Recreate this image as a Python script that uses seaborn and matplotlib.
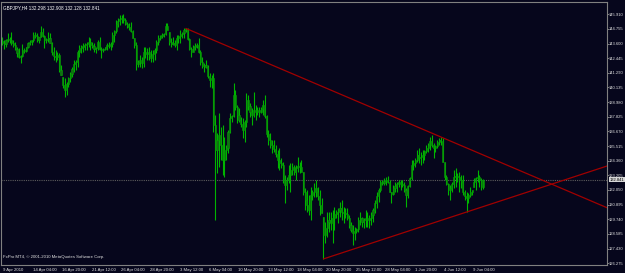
import numpy as np
import pandas as pd
import matplotlib
matplotlib.use('Agg')
import matplotlib.pyplot as plt
import matplotlib.transforms as mtransforms
import seaborn as sns

# GBPJPY H4 candles (9 Apr 2010 12:00 -> 10 Jun 2010 04:00)
symbol = 'GBPJPY,H4'
last_ohlc = [132.298, 132.908, 132.128, 132.841]
bid_price = 132.841

highs = [
    144.12, 143.88, 143.96, 144.44, 144.12, 144.52, 143.88, 143.73, 143.33, 143.25,
    142.70, 143.57, 143.25, 143.33, 143.73, 143.88, 143.88, 144.52, 144.52, 144.44,
    144.12, 144.99, 144.83, 144.28, 144.04, 144.52, 144.44, 143.73, 143.33, 143.10,
    142.94, 142.86, 141.91, 140.96, 140.89, 140.57, 140.96, 141.36, 141.75, 142.31,
    142.31, 143.10, 143.49, 143.49, 143.65, 143.65, 143.73, 144.12, 144.04, 143.73,
    143.65, 143.33, 143.88, 144.12, 143.33, 143.25, 143.33, 143.65, 143.73, 143.73,
    144.52, 144.67, 145.46, 145.62, 145.86, 145.86, 145.94, 145.62, 145.30, 145.22,
    145.30, 144.67, 144.04, 143.73, 142.31, 142.70, 142.54, 143.33, 143.33, 143.25,
    143.33, 143.10, 143.10, 143.25, 143.88, 144.28, 144.28, 144.44, 144.44, 145.22,
    145.22, 144.52, 144.04, 144.12, 143.88, 144.28, 144.28, 144.67, 144.52, 144.83,
    144.83, 144.83, 144.04, 143.33, 143.49, 143.65, 143.65, 144.04, 143.10, 142.54,
    142.07, 142.31, 141.91, 141.28, 141.12, 141.28, 137.97, 136.55, 138.12, 137.02,
    137.18, 136.23, 135.60, 136.78, 138.12, 137.97, 140.49, 139.94, 138.76, 138.52,
    137.81, 137.73, 137.57, 139.70, 139.54, 138.91, 138.52, 139.78, 138.76, 138.60,
    138.60, 138.60, 139.15, 139.54, 137.97, 136.78, 136.55, 135.99, 135.99, 135.60,
    135.21, 135.36, 134.58, 134.26, 133.23, 133.07, 134.02, 134.18, 134.18, 134.02,
    134.02, 134.65, 134.26, 134.42, 133.47, 132.21, 132.05, 131.65, 132.29, 132.05,
    132.60, 132.84, 132.29, 132.05, 131.42, 129.92, 129.52, 130.31, 130.31, 130.31,
    130.47, 130.71, 130.47, 130.63, 131.10, 131.26, 130.71, 130.63, 130.63, 130.08,
    129.52, 129.29, 129.13, 129.05, 129.92, 130.31, 129.92, 129.84, 130.47, 130.31,
    130.08, 130.31, 130.63, 131.26, 131.89, 132.21, 132.84, 132.84, 133.00, 133.07,
    133.15, 132.84, 131.89, 132.44, 132.68, 132.68, 132.84, 132.84, 132.84, 132.68,
    132.21, 132.44, 133.07, 134.42, 134.42, 134.58, 135.21, 135.36, 135.05, 135.21,
    135.21, 135.60, 135.76, 136.23, 136.39, 135.76, 135.60, 135.99, 136.15, 136.23,
    136.15, 134.26, 133.23, 132.60, 132.44, 132.68, 133.63, 133.79, 133.39, 133.47,
    133.23, 133.23, 132.05, 131.89, 131.81, 132.29, 132.05, 133.00, 133.07, 133.63,
    133.23, 133.00, 132.908,
]
lows = [
    143.49, 143.17, 143.33, 143.73, 143.65, 143.49, 143.33, 143.10, 142.54, 142.46,
    142.07, 142.54, 142.86, 142.94, 143.25, 143.49, 143.49, 143.73, 144.04, 143.73,
    143.65, 144.12, 144.12, 143.25, 143.65, 143.73, 143.65, 142.70, 142.31, 142.15,
    142.31, 141.36, 141.12, 140.10, 139.39, 139.54, 140.18, 140.57, 140.96, 141.36,
    141.52, 141.75, 142.54, 142.86, 142.94, 143.10, 143.10, 143.33, 143.10, 143.25,
    142.94, 142.86, 143.10, 143.10, 142.46, 142.94, 143.10, 143.10, 143.25, 143.10,
    143.33, 143.73, 144.44, 144.91, 145.07, 145.22, 145.22, 145.07, 144.83, 144.67,
    144.52, 144.04, 143.25, 141.52, 141.75, 141.75, 141.67, 141.75, 142.46, 142.31,
    142.31, 142.15, 142.15, 142.31, 142.86, 143.49, 143.88, 144.04, 144.12, 144.28,
    144.67, 143.49, 143.33, 143.49, 143.33, 143.10, 143.65, 143.65, 144.04, 144.04,
    144.52, 143.88, 143.10, 142.54, 142.94, 143.10, 143.25, 142.86, 141.91, 141.67,
    141.36, 141.67, 140.89, 140.18, 140.10, 136.63, 129.68, 133.39, 133.86, 134.42,
    133.23, 133.07, 134.42, 134.97, 136.55, 137.41, 137.81, 138.36, 137.34, 137.41,
    137.02, 136.15, 135.84, 137.02, 138.36, 137.81, 137.18, 137.81, 137.57, 137.97,
    137.81, 138.12, 137.97, 137.73, 136.23, 135.60, 135.36, 134.97, 135.05, 134.65,
    133.79, 133.63, 133.79, 132.60, 131.02, 132.05, 132.60, 131.89, 133.23, 133.23,
    132.84, 133.47, 133.39, 133.47, 131.65, 130.47, 130.31, 130.08, 129.68, 131.26,
    131.50, 131.50, 131.26, 130.08, 130.23, 126.61, 127.87, 128.34, 128.74, 128.89,
    127.87, 128.89, 129.84, 129.45, 129.92, 129.68, 129.45, 129.84, 129.68, 129.05,
    128.74, 127.71, 128.10, 128.66, 128.74, 129.29, 129.13, 129.05, 129.13, 129.13,
    129.05, 129.29, 129.52, 130.23, 130.63, 131.10, 131.89, 132.44, 132.44, 132.44,
    132.60, 131.89, 131.02, 131.65, 131.89, 131.89, 132.29, 132.05, 132.29, 131.89,
    130.71, 131.42, 132.29, 132.84, 133.63, 133.86, 134.26, 134.18, 134.02, 134.18,
    134.42, 134.97, 135.05, 135.21, 135.44, 134.58, 135.05, 135.36, 135.60, 135.60,
    134.26, 132.84, 132.44, 131.65, 131.26, 131.89, 132.21, 132.29, 132.68, 131.89,
    132.21, 131.65, 131.26, 130.31, 131.02, 131.50, 131.65, 132.29, 132.05, 132.68,
    132.29, 132.05, 132.128,
]
opens = [
    143.81, 143.65, 143.57, 143.88, 143.96, 143.88, 143.65, 143.49, 143.17, 142.86,
    142.54, 142.62, 143.10, 143.02, 143.33, 143.65, 143.73, 143.88, 144.28, 144.20,
    143.88, 144.12, 144.52, 144.20, 143.88, 143.96, 144.04, 143.65, 142.94, 142.62,
    142.54, 142.70, 141.52, 140.96, 140.33, 139.94, 140.41, 140.89, 141.20, 141.60,
    141.99, 142.15, 142.94, 143.25, 143.33, 143.41, 143.49, 143.57, 143.73, 143.49,
    143.41, 143.17, 143.25, 143.73, 143.17, 143.10, 143.17, 143.33, 143.49, 143.41,
    143.57, 144.28, 144.59, 145.15, 145.38, 145.54, 145.62, 145.46, 145.15, 144.99,
    144.91, 144.59, 144.04, 143.49, 141.99, 142.15, 142.31, 142.07, 142.94, 142.78,
    142.94, 142.62, 142.46, 142.78, 143.10, 143.73, 144.04, 144.20, 144.28, 144.36,
    144.99, 144.52, 143.73, 143.57, 143.65, 143.49, 144.04, 144.20, 144.36, 144.44,
    144.67, 144.75, 143.96, 143.17, 142.94, 143.33, 143.41, 143.49, 142.94, 142.15,
    141.83, 141.91, 141.75, 141.04, 140.73, 140.89, 137.18, 135.21, 135.99, 136.39,
    135.60, 134.42, 135.21, 135.36, 136.63, 137.73, 137.89, 139.54, 138.60, 137.97,
    137.57, 137.26, 136.78, 137.41, 139.15, 138.68, 138.20, 137.97, 138.36, 138.20,
    138.36, 138.20, 138.44, 138.76, 137.89, 136.47, 135.99, 135.60, 135.52, 135.28,
    134.89, 134.42, 134.18, 134.02, 132.84, 132.44, 132.84, 133.23, 133.63, 133.86,
    133.47, 133.79, 133.94, 133.86, 133.47, 131.89, 131.26, 130.87, 130.47, 131.65,
    131.89, 132.21, 131.89, 131.57, 130.87, 129.92, 128.50, 129.05, 129.52, 129.68,
    129.45, 129.84, 130.15, 130.31, 130.47, 130.63, 130.31, 130.23, 130.15, 129.84,
    129.29, 128.89, 128.66, 128.81, 128.97, 129.68, 129.84, 129.52, 129.68, 129.84,
    129.68, 129.84, 130.08, 130.47, 131.02, 131.57, 132.05, 132.68, 132.60, 132.76,
    132.84, 132.68, 131.89, 131.73, 132.21, 132.37, 132.52, 132.68, 132.52, 132.44,
    132.05, 131.65, 132.37, 133.00, 134.02, 134.18, 134.42, 134.81, 134.58, 134.65,
    134.81, 135.13, 135.36, 135.60, 135.92, 135.60, 135.36, 135.52, 135.84, 135.99,
    135.92, 134.26, 133.07, 132.52, 132.05, 132.21, 132.52, 133.07, 133.15, 133.07,
    132.84, 132.68, 131.89, 131.57, 131.42, 131.65, 131.89, 132.29, 132.68, 133.00,
    133.07, 132.84, 132.298,
]
closes = [
    143.65, 143.57, 143.88, 143.96, 143.88, 143.65, 143.49, 143.17, 142.86, 142.54,
    142.62, 143.10, 143.02, 143.33, 143.65, 143.73, 143.88, 144.28, 144.20, 143.88,
    144.12, 144.52, 144.20, 143.88, 143.96, 144.04, 143.65, 142.94, 142.62, 142.54,
    142.70, 141.52, 141.12, 140.33, 139.94, 140.41, 140.89, 141.20, 141.60, 141.99,
    142.15, 142.94, 143.25, 143.33, 143.41, 143.49, 143.57, 143.73, 143.49, 143.41,
    143.17, 143.25, 143.73, 143.17, 143.10, 143.17, 143.33, 143.49, 143.41, 143.57,
    144.28, 144.59, 145.15, 145.38, 145.54, 145.62, 145.46, 145.15, 144.99, 144.91,
    144.59, 144.04, 143.49, 141.99, 142.15, 142.31, 142.07, 142.94, 142.78, 142.94,
    142.62, 142.46, 142.78, 143.10, 143.73, 144.04, 144.20, 144.28, 144.36, 144.99,
    144.67, 143.73, 143.57, 143.65, 143.49, 144.04, 144.20, 144.36, 144.44, 144.67,
    144.75, 143.96, 143.17, 142.94, 143.33, 143.41, 143.49, 142.94, 142.15, 141.83,
    141.91, 141.75, 141.04, 140.73, 140.89, 137.18, 135.21, 135.99, 136.39, 135.60,
    134.42, 135.21, 135.36, 136.63, 137.73, 137.89, 139.54, 138.60, 137.97, 137.57,
    137.26, 136.78, 137.41, 139.15, 138.68, 138.20, 137.97, 138.36, 138.20, 138.36,
    138.20, 138.44, 138.76, 137.89, 136.47, 135.99, 135.60, 135.52, 135.28, 134.89,
    134.42, 134.18, 134.02, 132.84, 132.44, 132.84, 133.23, 133.63, 133.86, 133.47,
    133.79, 133.94, 133.86, 133.47, 131.89, 131.26, 130.87, 130.47, 131.65, 131.89,
    132.21, 131.89, 131.57, 130.87, 130.23, 128.50, 129.05, 129.52, 129.68, 129.45,
    129.84, 130.15, 130.31, 130.47, 130.63, 130.31, 130.23, 130.15, 129.84, 129.29,
    128.89, 128.66, 128.81, 128.97, 129.68, 129.84, 129.52, 129.68, 129.84, 129.68,
    129.84, 130.08, 130.47, 131.02, 131.57, 132.05, 132.68, 132.60, 132.76, 132.84,
    132.68, 131.89, 131.73, 132.21, 132.37, 132.52, 132.68, 132.52, 132.44, 132.05,
    131.65, 132.37, 133.00, 134.02, 134.18, 134.42, 134.81, 134.58, 134.65, 134.81,
    135.13, 135.36, 135.60, 135.92, 135.60, 135.36, 135.52, 135.84, 135.99, 135.92,
    134.26, 133.07, 132.52, 132.05, 132.21, 132.52, 133.07, 133.15, 133.07, 132.84,
    132.68, 131.89, 131.57, 131.42, 131.65, 131.89, 132.05, 132.68, 133.00, 133.07,
    132.84, 132.30, 132.841,
]

# time scale labels, one every 16 bars
time_labels = ['9 Apr 2010', '14 Apr 04:00', '16 Apr 20:00', '21 Apr 12:00', '26 Apr 04:00',
               '28 Apr 20:00', '3 May 12:00', '6 May 04:00', '10 May 20:00', '13 May 12:00',
               '18 May 04:00', '20 May 20:00', '25 May 12:00', '28 May 04:00', '1 Jun 20:00',
               '4 Jun 12:00', '9 Jun 04:00']
price_ticks = [145.910, 144.755, 143.600, 142.445, 141.290, 140.135, 138.980, 137.825, 136.670,
               135.515, 134.360, 133.205, 132.050, 130.895, 129.740, 128.585, 127.430, 126.275]

# hand drawn trend lines (bar index, price), both are rays to the right
trend_down = [(100, 144.80), (239, 136.23)]
trend_up = [(175, 126.61), (253, 130.31)]

df = pd.DataFrame({'open': opens, 'high': highs, 'low': lows, 'close': closes})
df['bar'] = np.arange(len(df))

bg = '#06061c'
fs = 3.1      # time scale / copyright
fs_price = 3.0
sns.set_style('dark', {'axes.facecolor': bg, 'figure.facecolor': bg,
                       'axes.edgecolor': '#808080', 'text.color': '#e0e0e0',
                       'xtick.color': '#909090', 'ytick.color': '#909090'})
plt.rcParams['font.family'] = ['Liberation Sans', 'DejaVu Sans']

fig = plt.figure(figsize=(6.25, 2.73), dpi=100)
ax = fig.add_axes([1 / 625, 8 / 273, 606 / 625, 263 / 273])

x_min, x_max = -0.7, 329.5
ax.set_xlim(x_min, x_max)
ax.set_ylim(126.13, 146.88)

# bid line
ax.axhline(bid_price, color='#5c5c5c', lw=0.8, ls=(0, (1, 1)), zorder=1)

# candles: wick + body
ax.vlines(df['bar'], df['low'], df['high'], color='#00b400', lw=0.8, zorder=2)
ax.bar(df['bar'], df['close'] - df['open'], bottom=df['open'], width=0.6,
       color='#186a18', edgecolor='#00a800', linewidth=0.4, zorder=3)

# trend rays
for (x0, y0), (x1, y1) in [trend_down, trend_up]:
    k = (y1 - y0) / (x1 - x0)
    sns.lineplot(x=[x0, x_max + 5], y=[y0, y0 + k * (x_max + 5 - x0)], ax=ax,
                 color='#a00000', lw=0.9, zorder=4)

# axes / ticks
for s in ax.spines.values():
    s.set_color('#808080')
    s.set_linewidth(0.8)

ax.yaxis.tick_right()
ax.set_yticks(price_ticks)
ax.set_yticklabels([f'{v:.3f}' for v in price_ticks])
ax.tick_params(axis='y', direction='out', length=1.2, width=0.6, pad=0.3,
               labelsize=fs_price, labelcolor='#e0e0e0', color='#909090')

ax.set_xticks(df['bar'][::16])
ax.set_xticklabels(time_labels, ha='left')
ax.tick_params(axis='x', direction='out', length=1.5, width=0.6, pad=0.6,
               labelsize=fs, labelcolor='#e0e0e0', color='#909090')
shift = mtransforms.ScaledTranslation(1.2 / 100, 0, fig.dpi_scale_trans)
for lbl in ax.get_xticklabels():
    lbl.set_transform(lbl.get_transform() + shift)

ax.set_xlabel('')
ax.set_ylabel('')

# current price label on the scale
trans = mtransforms.blended_transform_factory(ax.transAxes, ax.transData)
ax.text(1.0045, bid_price, f'{bid_price:.3f}', transform=trans, va='center', ha='left',
        fontsize=fs_price, color='black',
        bbox=dict(boxstyle='square,pad=0.12', facecolor='#d8d8d8', edgecolor='none'))

ax.text(0.004, 0.988, symbol + ' ' + ' '.join(f'{v:.3f}' for v in last_ohlc),
        transform=ax.transAxes, va='top', ha='left', fontsize=3.3, color='white')
ax.text(0.004, 0.022, 'FxPro MT4, \u00a9 2001-2010 MetaQuotes Software Corp.',
        transform=ax.transAxes, va='bottom', ha='left', fontsize=fs, color='#e0e0e0')

fig.savefig('out.png', dpi=100, facecolor=bg)
